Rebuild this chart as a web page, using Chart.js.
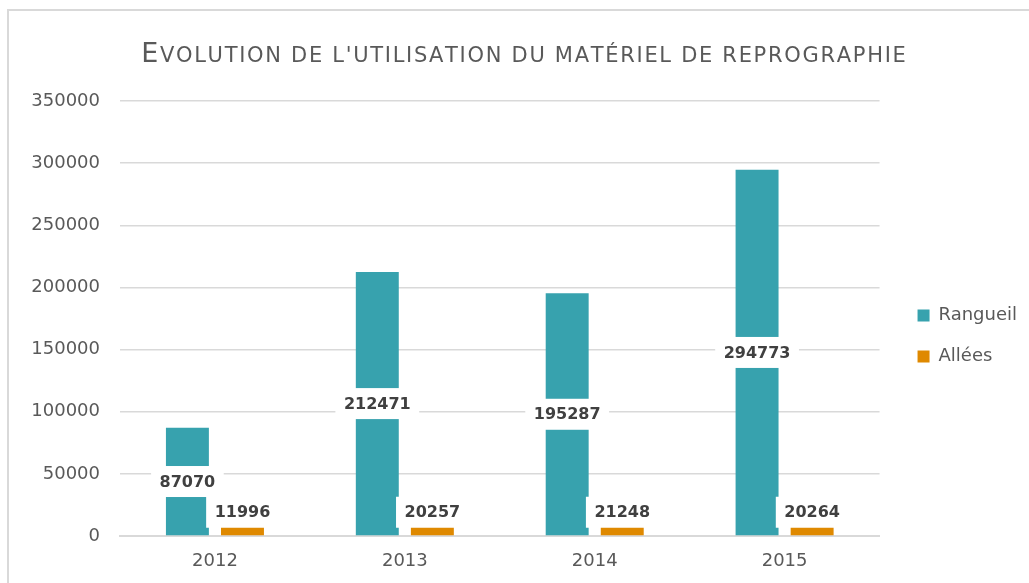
<!DOCTYPE html>
<html>
<head>
<meta charset="utf-8">
<script src="https://cdn.jsdelivr.net/npm/chart.js@4.4.1/dist/chart.umd.min.js"></script>
<style>
  html, body { margin: 0; padding: 0; background: #fff; overflow: hidden; }
  #wrap { position: absolute; left: 0; top: 0; width: 1029px; height: 583px; }
</style>
</head>
<body>
<div id="wrap"><canvas id="chart"></canvas></div>
<script>
// donnees du graphique
const titleText = "Evolution de l'utilisation du matériel de reprographie";
const categories = ['2012', '2013', '2014', '2015'];
const seriesNames = ['Rangueil', 'Allées'];
const rangueil = [87070, 212471, 195287, 294773];
const allees = [11996, 20257, 21248, 20264];
const yMax = 350000;
const yStep = 50000;

const colors = ['#37a2ae', '#df8900'];
const FONT = 'DejaVu Sans';

// cadre gris (bords haut et gauche seulement, le reste sort de l'image)
const frame = {
    id: 'frame',
    beforeDraw(chart) {
        const ctx = chart.ctx;
        ctx.save();
        ctx.strokeStyle = '#d9d9d9';
        ctx.lineWidth = 2;
        ctx.beginPath();
        ctx.moveTo(8, chart.height);
        ctx.lineTo(8, 10);
        ctx.lineTo(chart.width, 10);
        ctx.stroke();
        ctx.restore();
    }
};

// titre en petites capitales (dessine a la main)
const smallCapsTitle = {
    id: 'smallCapsTitle',
    afterDraw(chart) {
        const ctx = chart.ctx;
        const big = 27, small = 21, spacing = 1.7;
        ctx.save();
        ctx.fillStyle = '#595959';
        ctx.textBaseline = 'alphabetic';
        let parts = [];
        let total = 0;
        for (const ch of titleText) {
            const isCap = ch !== ch.toLowerCase();
            const size = isCap ? big : small;
            ctx.font = size + 'px ' + FONT;
            const t = ch.toUpperCase();
            const w = ctx.measureText(t).width + spacing;
            parts.push({ t, size, w });
            total += w;
        }
        total -= spacing;
        let x = 523.5 - total / 2;
        for (const p of parts) {
            ctx.font = p.size + 'px ' + FONT;
            ctx.fillText(p.t, x, 62);
            x += p.w;
        }
        ctx.restore();
    }
};

// etiquettes de donnees avec fond blanc
const boxedLabels = {
    id: 'boxedLabels',
    afterDatasetsDraw(chart) {
        const ctx = chart.ctx;
        ctx.save();
        ctx.font = 'bold 16px ' + FONT;
        ctx.textAlign = 'center';
        ctx.textBaseline = 'middle';
        chart.data.datasets.forEach((ds, i) => {
            const meta = chart.getDatasetMeta(i);
            meta.data.forEach((bar, j) => {
                const p = bar.getProps(['x', 'y', 'base'], true);
                let cy = Math.min((p.y + p.base) / 2, p.base - 23);
                const txt = String(ds.data[j]);
                const w = ctx.measureText(txt).width + 17;
                const h = 31;
                ctx.fillStyle = '#ffffff';
                ctx.fillRect(p.x - w / 2, cy - h / 2, w, h);
                ctx.fillStyle = '#404040';
                ctx.fillText(txt, p.x, cy + 1);
            });
        });
        ctx.restore();
    }
};

new Chart(document.getElementById('chart'), {
    type: 'bar',
    data: {
        labels: categories,
        datasets: [
            { label: seriesNames[0], data: rangueil, backgroundColor: colors[0] },
            { label: seriesNames[1], data: allees, backgroundColor: colors[1] }
        ]
    },
    options: {
        responsive: true,
        maintainAspectRatio: false,
        animation: false,
        datasets: { bar: { categoryPercentage: 0.58, barPercentage: 0.78 } },
        layout: { padding: { left: 18, right: 2, top: 101, bottom: 12 } },
        plugins: {
            title: { display: false },
            tooltip: { enabled: false },
            legend: {
                position: 'right',
                labels: {
                    boxWidth: 12,
                    boxHeight: 12,
                    padding: 23,
                    color: '#595959',
                    font: { family: FONT, size: 18 }
                }
            }
        },
        scales: {
            x: {
                grid: { display: false, drawTicks: false },
                border: { color: '#d9d9d9', width: 2 },
                ticks: { color: '#595959', padding: 15, font: { family: FONT, size: 18 } },
                afterFit(s) { s.height = 35; }
            },
            y: {
                min: 0,
                max: yMax,
                ticks: {
                    stepSize: yStep,
                    color: '#595959',
                    padding: 20,
                    font: { family: FONT, size: 18 },
                    callback: (v) => String(v)
                },
                grid: { color: '#d9d9d9', lineWidth: 1.5, drawTicks: false },
                border: { display: false },
                afterFit(s) { s.width = 102; }
            },
            pad: {
                type: 'linear',
                position: 'right',
                display: true,
                grid: { display: false, drawTicks: false },
                ticks: { display: false },
                border: { display: false },
                afterFit(s) { s.width = 15; }
            }
        }
    },
    plugins: [frame, boxedLabels, smallCapsTitle]
});
</script>
</body>
</html>
